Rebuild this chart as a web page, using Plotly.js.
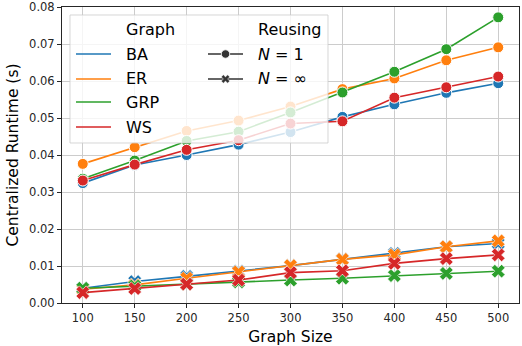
<!DOCTYPE html>
<html>
<head>
<meta charset="utf-8">
<script src="https://cdn.plot.ly/plotly-3.0.1.min.js"></script>
<style>
  html, body { margin: 0; padding: 0; background: #fff; }
  #chart { width: 522px; height: 346px; }
</style>
</head>
<body>
<div id="chart"></div>
<script>
// Graph sizes on the x axis
const graphSizes = [100, 150, 200, 250, 300, 350, 400, 450, 500];

// Centralized runtime (s), no reuse (N = 1)
const baN1  = [0.0324, 0.0373, 0.0400, 0.0428, 0.0462, 0.0503, 0.0537, 0.0568, 0.0594];
const erN1  = [0.0376, 0.0421, 0.0465, 0.0493, 0.0531, 0.0578, 0.0607, 0.0656, 0.0691];
const grpN1 = [0.0336, 0.0385, 0.0438, 0.0463, 0.0515, 0.0569, 0.0625, 0.0686, 0.0772];
const wsN1  = [0.0331, 0.0374, 0.0414, 0.0440, 0.0485, 0.0491, 0.0555, 0.0583, 0.0612];

// Centralized runtime (s), full reuse (N = ∞)
const baInf  = [0.0040, 0.0058, 0.0072, 0.0086, 0.0101, 0.0118, 0.0134, 0.0152, 0.0161];
const erInf  = [0.0037, 0.0049, 0.0067, 0.0084, 0.0101, 0.0118, 0.0130, 0.0152, 0.0168];
const grpInf = [0.0040, 0.0046, 0.0051, 0.0057, 0.0062, 0.0067, 0.0074, 0.0080, 0.0086];
const wsInf  = [0.0028, 0.0039, 0.0051, 0.0062, 0.0082, 0.0087, 0.0107, 0.0120, 0.0130];

const graphNames = ['BA', 'ER', 'GRP', 'WS'];
const graphColors = ['#1f77b4', '#ff7f0e', '#2ca02c', '#d62728'];
const seriesN1 = [baN1, erN1, grpN1, wsN1];
const seriesInf = [baInf, erInf, grpInf, wsInf];

const FONT = 'DejaVu Sans, sans-serif';
const W = 522, H = 346;
const M = { l: 62, r: 3, t: 7, b: 43 };
const PW = W - M.l - M.r, PH = H - M.t - M.b;

const traces = [];
graphNames.forEach((name, i) => {
  traces.push({
    x: graphSizes, y: seriesN1[i], type: 'scatter', mode: 'lines+markers',
    name: name + ' N=1', showlegend: false, hoverinfo: 'skip',
    line: { color: graphColors[i], width: 1.6 },
    marker: { symbol: 'circle', size: 11, color: graphColors[i], line: { color: '#ffffff', width: 1 } }
  });
  traces.push({
    x: graphSizes, y: seriesInf[i], type: 'scatter', mode: 'lines+markers',
    name: name + ' N=inf', showlegend: false, hoverinfo: 'skip',
    line: { color: graphColors[i], width: 1.6 },
    marker: { symbol: 'x', size: 12, color: graphColors[i], line: { color: '#ffffff', width: 0.6 } }
  });
});

// pixel -> paper helpers for the legend box
const px = x => (x - M.l) / PW;
const py = y => 1 - (y - M.t) / PH;

const shapes = [];
const annotations = [];

// legend frame (semi-transparent, sits above the lines)
shapes.push({
  type: 'rect', xref: 'paper', yref: 'paper', layer: 'above',
  x0: px(70), x1: px(328), y0: py(143), y1: py(15),
  fillcolor: 'rgba(255,255,255,0.8)', line: { color: 'rgba(204,204,204,0.8)', width: 1 }
});

function label(text, x, y) {
  annotations.push({
    text: text, xref: 'paper', yref: 'paper', x: px(x), y: py(y),
    xanchor: 'left', yanchor: 'middle', showarrow: false,
    font: { family: FONT, size: 16, color: '#000' }
  });
}

label('Graph', 124, 29);
label('Reusing', 256, 29);

const rowY = [54, 79, 102, 127];
graphNames.forEach((name, i) => {
  shapes.push({
    type: 'line', xref: 'paper', yref: 'paper', layer: 'above',
    x0: px(76), x1: px(111), y0: py(rowY[i]), y1: py(rowY[i]),
    line: { color: graphColors[i], width: 1.6 }
  });
  label(name, 124, rowY[i]);
});

// style handles
const handleColor = '#333333';
[54, 79].forEach(y => {
  shapes.push({
    type: 'line', xref: 'paper', yref: 'paper', layer: 'above',
    x0: px(208), x1: px(243), y0: py(y), y1: py(y),
    line: { color: handleColor, width: 1.6 }
  });
});
const r = 4.2;
shapes.push({
  type: 'circle', xref: 'paper', yref: 'paper', layer: 'above',
  x0: px(225.5 - r), x1: px(225.5 + r), y0: py(54 + r), y1: py(54 - r),
  fillcolor: handleColor, line: { color: '#ffffff', width: 0.8 }
});
(function () {
  const cx = 225.5, cy = 79, a = 4.2, d = 2.1;
  const pts = [[0, -d], [a - d, -a], [a, -a + d], [d, 0], [a, a - d], [a - d, a],
               [0, d], [-a + d, a], [-a, a - d], [-d, 0], [-a, -a + d], [-a + d, -a]];
  const path = pts.map((p, k) => (k ? 'L' : 'M') + px(cx + p[0]).toFixed(5) + ',' + py(cy + p[1]).toFixed(5)).join(' ') + ' Z';
  shapes.push({
    type: 'path', xref: 'paper', yref: 'paper', layer: 'above', path: path,
    fillcolor: handleColor, line: { color: '#ffffff', width: 0.5 }
  });
})();
label('<i>N</i> = 1', 256, 54);
label('<i>N</i> = ∞', 256, 79);

const axisCommon = {
  showline: true, mirror: true, linecolor: '#262626', linewidth: 1,
  ticks: 'outside', ticklen: 4, tickwidth: 1, tickcolor: '#262626',
  showgrid: true, gridcolor: '#cccccc', gridwidth: 1, zeroline: false,
  tickfont: { family: FONT, size: 11.5, color: '#262626' }
};

const layout = {
  width: W, height: H,
  margin: M,
  paper_bgcolor: '#ffffff', plot_bgcolor: '#ffffff',
  showlegend: false,
  font: { family: FONT },
  xaxis: Object.assign({}, axisCommon, {
    range: [80, 520], tickvals: graphSizes, ticktext: graphSizes.map(String),
    title: { text: 'Graph Size', font: { family: FONT, size: 15.5, color: '#000' }, standoff: 7 }
  }),
  yaxis: Object.assign({}, axisCommon, {
    range: [0, 0.08], dtick: 0.01, tick0: 0, tickformat: '.2f',
    title: { text: 'Centralized Runtime (s)', font: { family: FONT, size: 15.5, color: '#000' }, standoff: 6 }
  }),
  shapes: shapes,
  annotations: annotations
};

Plotly.newPlot('chart', traces, layout, { staticPlot: true, displayModeBar: false });
</script>
</body>
</html>
